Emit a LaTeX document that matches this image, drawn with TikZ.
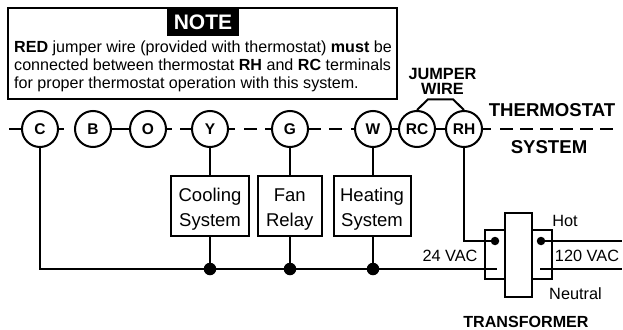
\documentclass[tikz,border=0pt]{standalone}
\usepackage{fontspec}
\setmainfont{Liberation Sans}
\newcommand{\upstrut}{\rule{0pt}{19.5pt}}
\tikzset{
  wire/.style={line width=2pt},
  term/.style={circle,draw,line width=2pt,minimum size=36pt,inner sep=0pt,font=\fontsize{15.5}{16}\selectfont\bfseries},
  sysbox/.style={draw,line width=2pt,fill=white,align=center,inner sep=0pt,font=\fontsize{18.5}{24.5}\selectfont},
  sdot/.style={circle,fill=black,inner sep=0pt,minimum size=8.5pt},
  busdot/.style={circle,fill=black,inner sep=0pt,minimum size=12.5pt},
  lab/.style={inner sep=0pt,font=\fontsize{16.3}{18}\selectfont},
  blab/.style={inner sep=0pt,font=\fontsize{18.6}{20}\selectfont\bfseries}
}
\begin{document}
\begin{tikzpicture}[x=1pt,y=-1pt]
\useasboundingbox (0,0) rectangle (623,329);
% Note
\node[draw,line width=2pt,outer sep=0pt,minimum width=389pt,minimum height=90.7pt,anchor=north west,inner sep=0pt] (notebox) at (8.3,8.3) {};
\node[fill=black,text=white,minimum width=72pt,minimum height=26.5pt,inner sep=0pt,font=\fontsize{21}{22}\selectfont\bfseries] (notehead) at (203,22.3) {NOTE};
\node[anchor=north west,inner sep=0pt,align=left,font=\fontsize{16.1}{18}\selectfont] (notetext) at (14,40.6)
 {\textbf{RED} jumper wire (provided with thermostat) \textbf{must} be\\connected between thermostat \textbf{RH} and \textbf{RC} terminals\\for proper thermostat operation with this system.};
% Terminals
\node[term] (C) at (40,129) {C};
\node[term] (B) at (93,129) {B};
\node[term] (O) at (148,129) {O};
\node[term] (Y) at (210,129) {Y};
\node[term] (G) at (290,129) {G};
\node[term] (W) at (373,129) {W};
\node[term] (RC) at (417,129) {RC};
\node[term] (RH) at (464,129) {RH};
% Thermostat boundary pieces
\coordinate (a0) at (9,129);
\coordinate (a1) at (64,129);
\coordinate (a2) at (172,129);
\coordinate (a3) at (180,129);
\coordinate (a4) at (235,129);
\coordinate (a5) at (244,129);
\coordinate (a6) at (257,129);
\coordinate (a7) at (265,129);
\coordinate (a8) at (351,129);
\coordinate (a9) at (491,129);
\draw[wire] (a0) -- (C.west);
\draw[wire] (C.east) -- (a1);
\draw[wire] (B.east) -- (O.west);
\draw[wire] (O.east) -- (a2);
\draw[wire] (a3) -- (Y.west);
\draw[wire] (Y.east) -- (a4);
\draw[wire] (a5) -- (a6);
\draw[wire] (a7) -- (G.west);
\draw[wire] (a8) -- (W.west);
\draw[wire] (W.east) -- (RC.west);
\draw[wire] (RC.east) -- (RH.west);
\draw[wire] (RH.east) -- (a9);
\coordinate (g1) at (321,129);
\coordinate (g2) at (329,129);
\coordinate (g3) at (342,129);
\draw[wire] (G.east) -- (g1);
\draw[wire] (g2) -- (g3);
\coordinate (d0) at (500,129);
\coordinate (d1) at (620,129);
\draw[wire,dash pattern=on 13pt off 7pt] (d0) -- (d1);
% Jumper
\coordinate (jt1) at (428,99.3);
\coordinate (jt2) at (453,99.3);
\draw[wire] (RC.north) -- (jt1) -- (jt2) -- (RH.north);
\node[blab,align=center,font=\fontsize{16.3}{15.5}\selectfont\bfseries] (jumperlab) at (442.5,81.5) {JUMPER\\WIRE};
\node[blab] (thermolab) at (552,110) {THERMOSTAT};
\node[blab] (syslab) at (549,147.5) {SYSTEM};
% Load boxes
\node[sysbox,minimum width=78pt,minimum height=60pt] (cool) at (210,206) {\upstrut Cooling\\System};
\node[sysbox,minimum width=64pt,minimum height=60pt] (fan) at (289.7,206) {\upstrut Fan\\Relay};
\node[sysbox,minimum width=77pt,minimum height=60pt] (heat) at (372,206) {\upstrut Heating\\System};
% Bus
\coordinate (busl) at (40,269);
\node[busdot] (n1) at (210,269) {};
\node[busdot] (n2) at (290,269) {};
\node[busdot] (n3) at (373,269) {};
\coordinate (secb) at (497,269);
\draw[wire] (C.south) -- (busl) -- (secb);
\draw[wire] (Y.south) -- (Y.south |- cool.north);
\draw[wire] (G.south) -- (G.south |- fan.north);
\draw[wire] (W.south) -- (W.south |- heat.north);
\draw[wire] (n1.center |- cool.south) -- (n1.center);
\draw[wire] (n2.center |- fan.south) -- (n2.center);
\draw[wire] (n3.center |- heat.south) -- (n3.center);
% Transformer
\node[draw,line width=2pt,minimum width=67.5pt,minimum height=49pt,inner sep=0pt] (coil) at (518.3,254.5) {};
\node[draw,line width=2pt,fill=white,minimum width=27pt,minimum height=84pt,inner sep=0pt] (core) at (518.5,255) {};
\node[sdot] (ds) at (495,241) {};
\node[sdot] (dp) at (541,241) {};
\coordinate (rhc) at (464,241);
\draw[wire] (RH.south) -- (rhc) -- (ds.center);
\coordinate (hot) at (622,241);
\coordinate (neu) at (622,269);
\coordinate (pri) at (540,269);
\draw[wire] (dp.center) -- (hot);
\draw[wire] (pri) -- (neu);
\node[lab] (v24) at (450,256) {24 VAC};
\node[lab] (v120) at (587,256) {120 VAC};
\node[lab] (hotlab) at (565,221) {Hot};
\node[lab] (neulab) at (575.5,293.5) {Neutral};
\node[blab,font=\fontsize{16.1}{18}\selectfont\bfseries] (xflab) at (526,321.5) {TRANSFORMER};
\end{tikzpicture}
\end{document}
